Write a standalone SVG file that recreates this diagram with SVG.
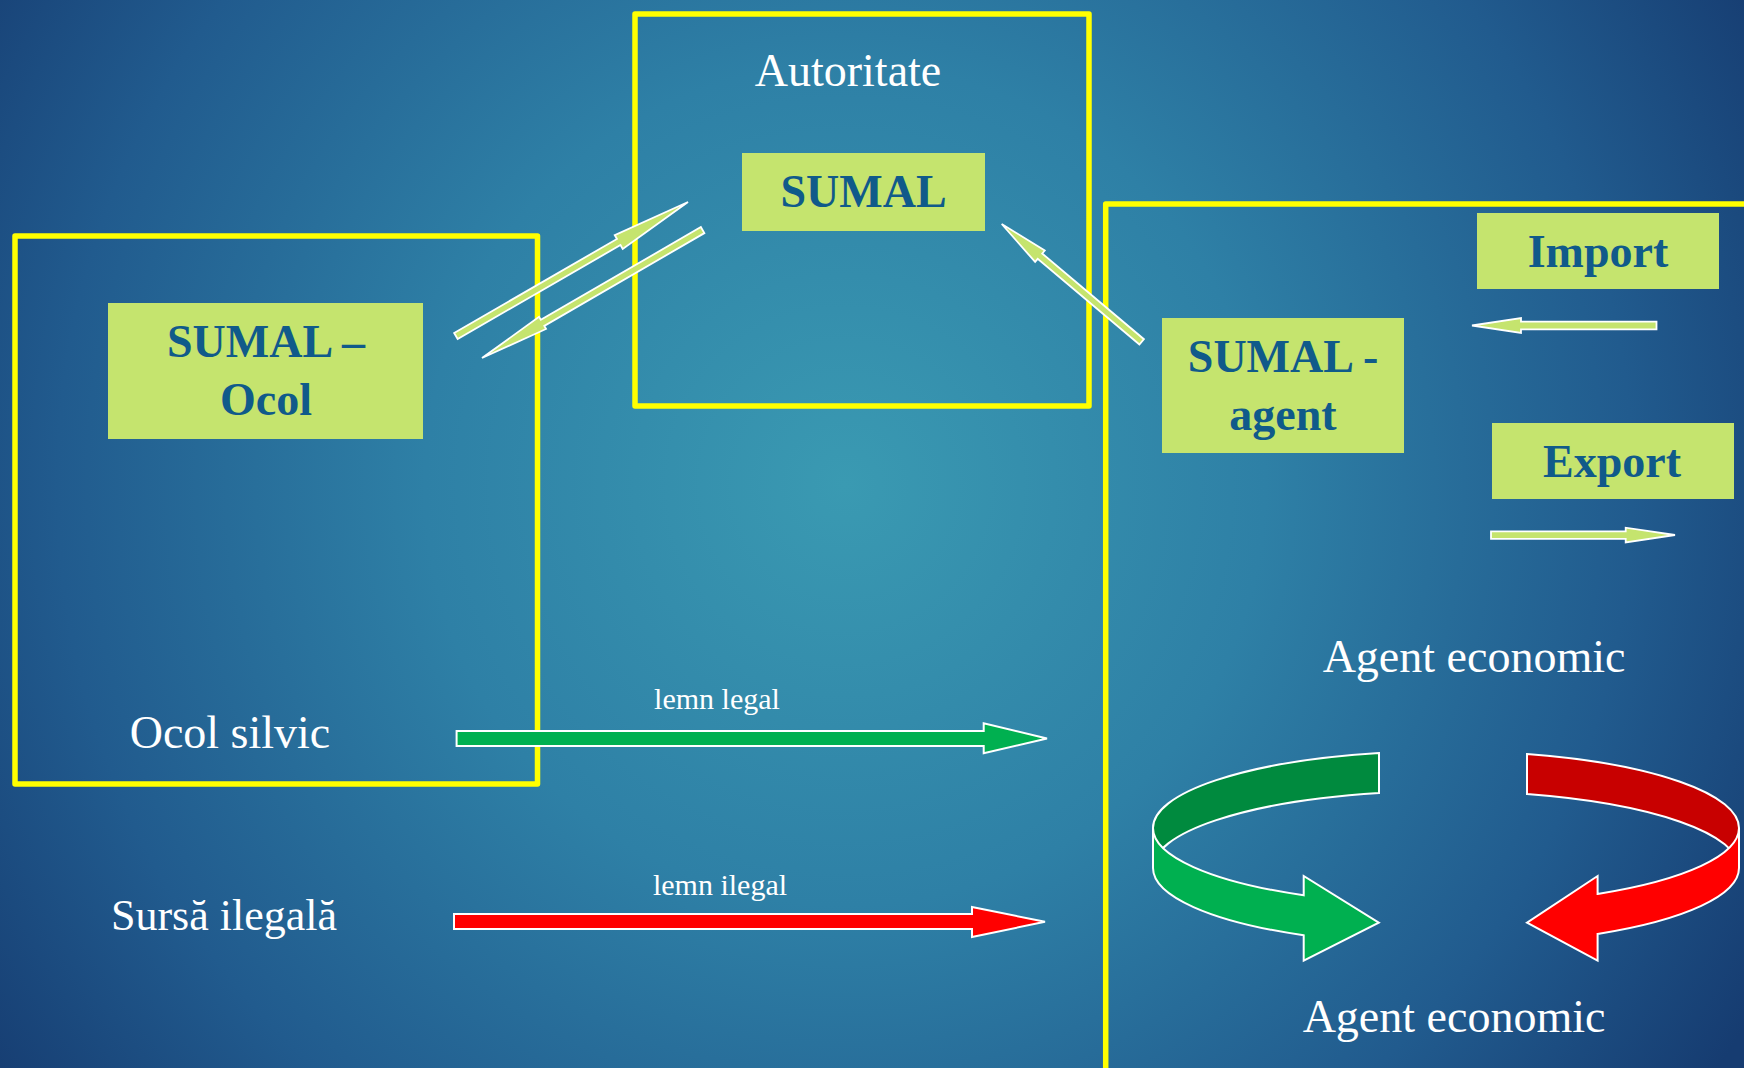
<svg xmlns="http://www.w3.org/2000/svg" width="1744" height="1068" viewBox="0 0 1744 1068">
<defs>
<radialGradient id="bg" gradientUnits="userSpaceOnUse" cx="845" cy="485" r="1050">
<stop offset="0" stop-color="#3A9AB2"/>
<stop offset="0.4" stop-color="#2E80A6"/>
<stop offset="0.75" stop-color="#215B8E"/>
<stop offset="1" stop-color="#163C71"/>
</radialGradient>
<style>
.frame{fill:none;stroke:#FFFF00;stroke-width:5.5;stroke-linejoin:round}
.lime{fill:#C5E46E}
.lbl{font-family:"Liberation Serif",serif;fill:#FFFFFF;text-anchor:middle}
.big{font-size:46px}
.small{font-size:30px}
.bold{font-family:"Liberation Serif",serif;font-weight:bold;font-size:46px;fill:#105A8A;text-anchor:middle}
.arr{fill:#C5E46E;stroke:#FFFFFF;stroke-width:1.8;stroke-linejoin:miter}
.wline{stroke:#FFFFFF;stroke-width:2;stroke-linejoin:miter}
</style>
</defs>
<rect x="0" y="0" width="1744" height="1068" fill="url(#bg)"/>

<g id="frame-autoritate">
<rect class="frame" x="635" y="14" width="454" height="392"/>
<text class="lbl big" x="848" y="86">Autoritate</text>
</g>
<g id="frame-ocol">
<rect class="frame" x="15" y="236" width="522.5" height="548"/>
<text class="lbl big" x="230" y="748">Ocol silvic</text>
</g>
<g id="frame-agent">
<rect class="frame" x="1105.7" y="204" width="700" height="900"/>
<text class="lbl big" x="1474" y="672">Agent economic</text>
<text class="lbl big" x="1454" y="1032">Agent economic</text>
</g>
<g id="node-sumal">
<rect class="lime" x="742" y="153" width="243" height="78"/>
<text class="bold" x="863.5" y="207">SUMAL</text>
</g>
<g id="node-sumal-ocol">
<rect class="lime" x="108" y="303" width="315" height="136"/>
<text class="bold" x="266" y="357">SUMAL –</text>
<text class="bold" x="266" y="415">Ocol</text>
</g>
<g id="node-sumal-agent">
<rect class="lime" x="1162" y="318" width="242" height="135"/>
<text class="bold" x="1283" y="372">SUMAL -</text>
<text class="bold" x="1283" y="430">agent</text>
</g>
<g id="node-import">
<rect class="lime" x="1477" y="213" width="242" height="76"/>
<text class="bold" x="1598" y="267">Import</text>
</g>
<g id="node-export">
<rect class="lime" x="1492" y="423" width="242" height="76"/>
<text class="bold" x="1612" y="477">Export</text>
</g>
<g id="node-sursa">
<text class="lbl" font-size="44" x="224" y="930">Sursă ilegală</text>
</g>

<g id="connectors">
<polygon class="arr" transform="translate(688,202) rotate(-30)" points="-268,-3.5 -80,-3.5 -80,-8 0,0 -80,8 -80,3.5 -268,3.5"/>
<polygon class="arr" transform="translate(482,358) rotate(149.9)" points="-255,-3.5 -70,-3.5 -70,-7 0,0 -70,7 -70,3.5 -255,3.5"/>
<polygon class="arr" transform="translate(1001.7,224) rotate(-139.9)" points="-183,-3.5 -50,-3.5 -50,-7.5 0,0 -50,7.5 -50,3.5 -183,3.5"/>
<polygon class="arr" points="1656.5,321.7 1521,321.7 1521,318 1472,325.5 1521,333 1521,329.3 1656.5,329.3"/>
<polygon class="arr" points="1491,531.3 1625.7,531.3 1625.7,527.7 1675,535 1625.7,542.5 1625.7,538.8 1491,538.8"/>
<polygon fill="#00B050" stroke="#FFFFFF" stroke-width="2" points="456.6,731 983.7,731 983.7,723.3 1047,738.5 983.7,753.3 983.7,746 456.6,746"/>
<polygon fill="#FF0000" stroke="#FFFFFF" stroke-width="2" points="454,914 972,914 972,907 1045,921.8 972,937 972,929 454,929"/>
<text class="lbl small" x="717" y="709">lemn legal</text>
<text class="lbl small" x="720" y="895">lemn ilegal</text>
<path class="wline" fill="#008A3E" d="M1153,828 A293,77 0 0 1 1379,753 L1379,793 A293,77 0 0 0 1153,868 Z"/>
<path class="wline" fill="#00B050" d="M1153,828 A293,77 0 0 0 1303.7,895.3 L1303.7,876 L1378.8,922.7 L1303.7,960.7 L1303.7,935.3 A293,77 0 0 1 1153,868 Z"/>
<path class="wline" fill="#C80000" d="M1527,754 A293,77 0 0 1 1739,828 L1739,868 A293,77 0 0 0 1527,794 Z"/>
<path class="wline" fill="#FF0000" d="M1739,828 A293,77 0 0 1 1597.6,893.9 L1597.6,876 L1527,922.7 L1597.6,960.7 L1597.6,933.9 A293,77 0 0 0 1739,868 Z"/>
</g>
</svg>
